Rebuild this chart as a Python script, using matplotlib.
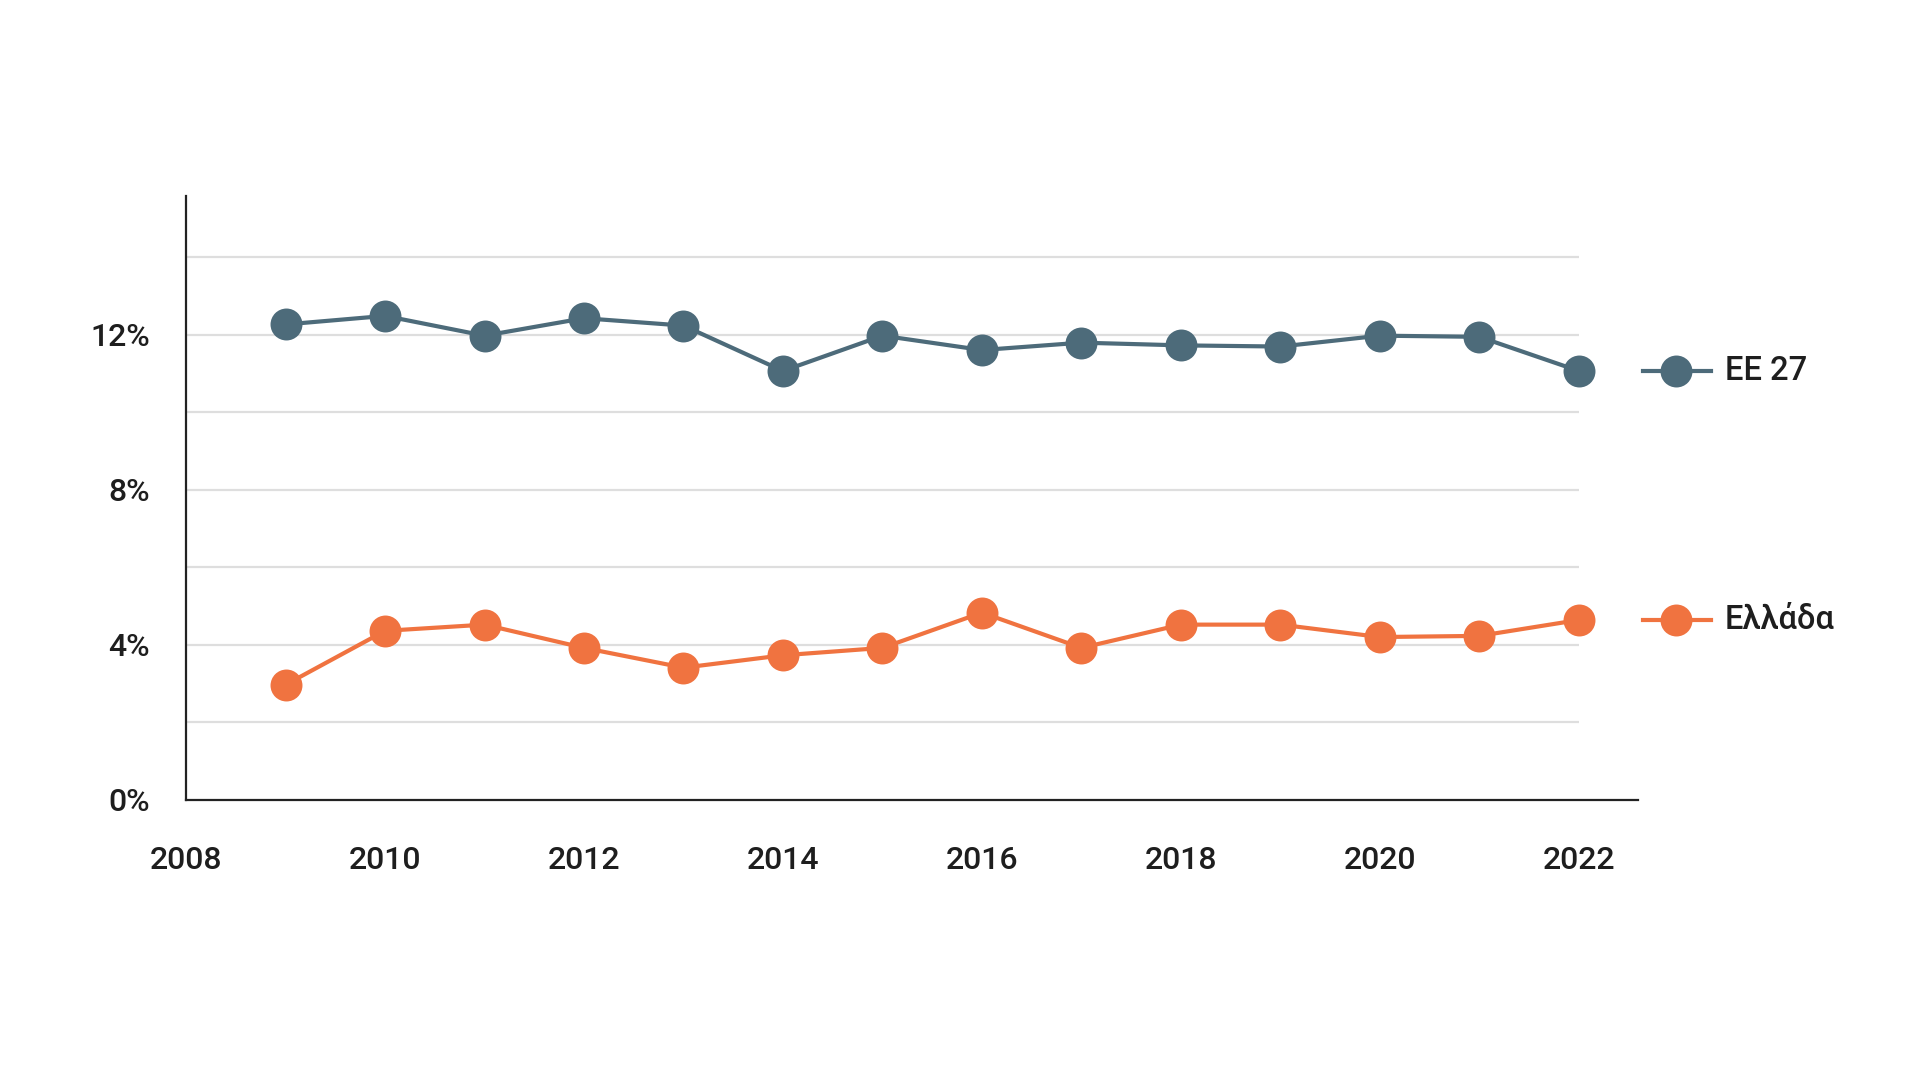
import matplotlib
matplotlib.use('Agg')
import matplotlib.pyplot as plt

plt.rcParams['font.family'] = ['Roboto', 'DejaVu Sans']
plt.rcParams['font.weight'] = 'medium'

years = [2009, 2010, 2011, 2012, 2013, 2014, 2015, 2016, 2017, 2018, 2019, 2020, 2021, 2022]
ee27 = [12.26, 12.48, 11.97, 12.42, 12.23, 11.06, 11.97, 11.6, 11.79, 11.72, 11.69, 11.97, 11.94, 11.06]
greece = [2.97, 4.36, 4.52, 3.92, 3.41, 3.73, 3.92, 4.83, 3.92, 4.52, 4.52, 4.2, 4.23, 4.64]
series_names = ['ΕΕ 27', 'Ελλάδα']
colors = ['#4d6b7a', '#f07340']

x_ticks = [2008, 2010, 2012, 2014, 2016, 2018, 2020, 2022]
y_ticks = [0, 4, 8, 12]
y_grid = [2, 4, 6, 8, 10, 12, 14]

fig = plt.figure(figsize=(19.2, 10.81), dpi=100)
ax = fig.add_axes([0.0969, 0.26, 0.756, 0.559])

# γραμμές πλέγματος μέχρι το 2022
ax.hlines(y_grid, x_ticks[0], x_ticks[-1], colors='#dedede', linewidth=1.6, zorder=1)

for vals, name, c in zip([ee27, greece], series_names, colors):
    ax.plot(years, vals, color=c, linewidth=3, marker='o', markersize=23,
            markeredgewidth=0, zorder=3)
    # ετικέτα στο τέλος της γραμμής
    last = vals[-1]
    ax.plot([2022.64, 2023.33], [last, last], color=c, linewidth=3, clip_on=False, zorder=3)
    ax.plot([2022.98], [last], color=c, marker='o', markersize=23,
            markeredgewidth=0, clip_on=False, zorder=4)
    ax.text(2023.47, last, name, fontsize=23.5, color='#1e1e1e', va='center', ha='left')

ax.set_xlim(2008, 2022.59)
ax.set_ylim(0, 15.58)
ax.set_xticks(x_ticks)
ax.set_xticklabels([str(y) for y in x_ticks])
ax.set_yticks(y_ticks)
ax.set_yticklabels([f'{v}%' for v in y_ticks])
ax.tick_params(axis='x', length=0, pad=33, labelsize=23, labelcolor='#1e1e1e')
ax.tick_params(axis='y', length=0, pad=26, labelsize=23, labelcolor='#1e1e1e')

for s in ['top', 'right']:
    ax.spines[s].set_visible(False)
for s in ['left', 'bottom']:
    ax.spines[s].set_color('#222222')
    ax.spines[s].set_linewidth(1.6)

fig.savefig('out.png', dpi=100)
